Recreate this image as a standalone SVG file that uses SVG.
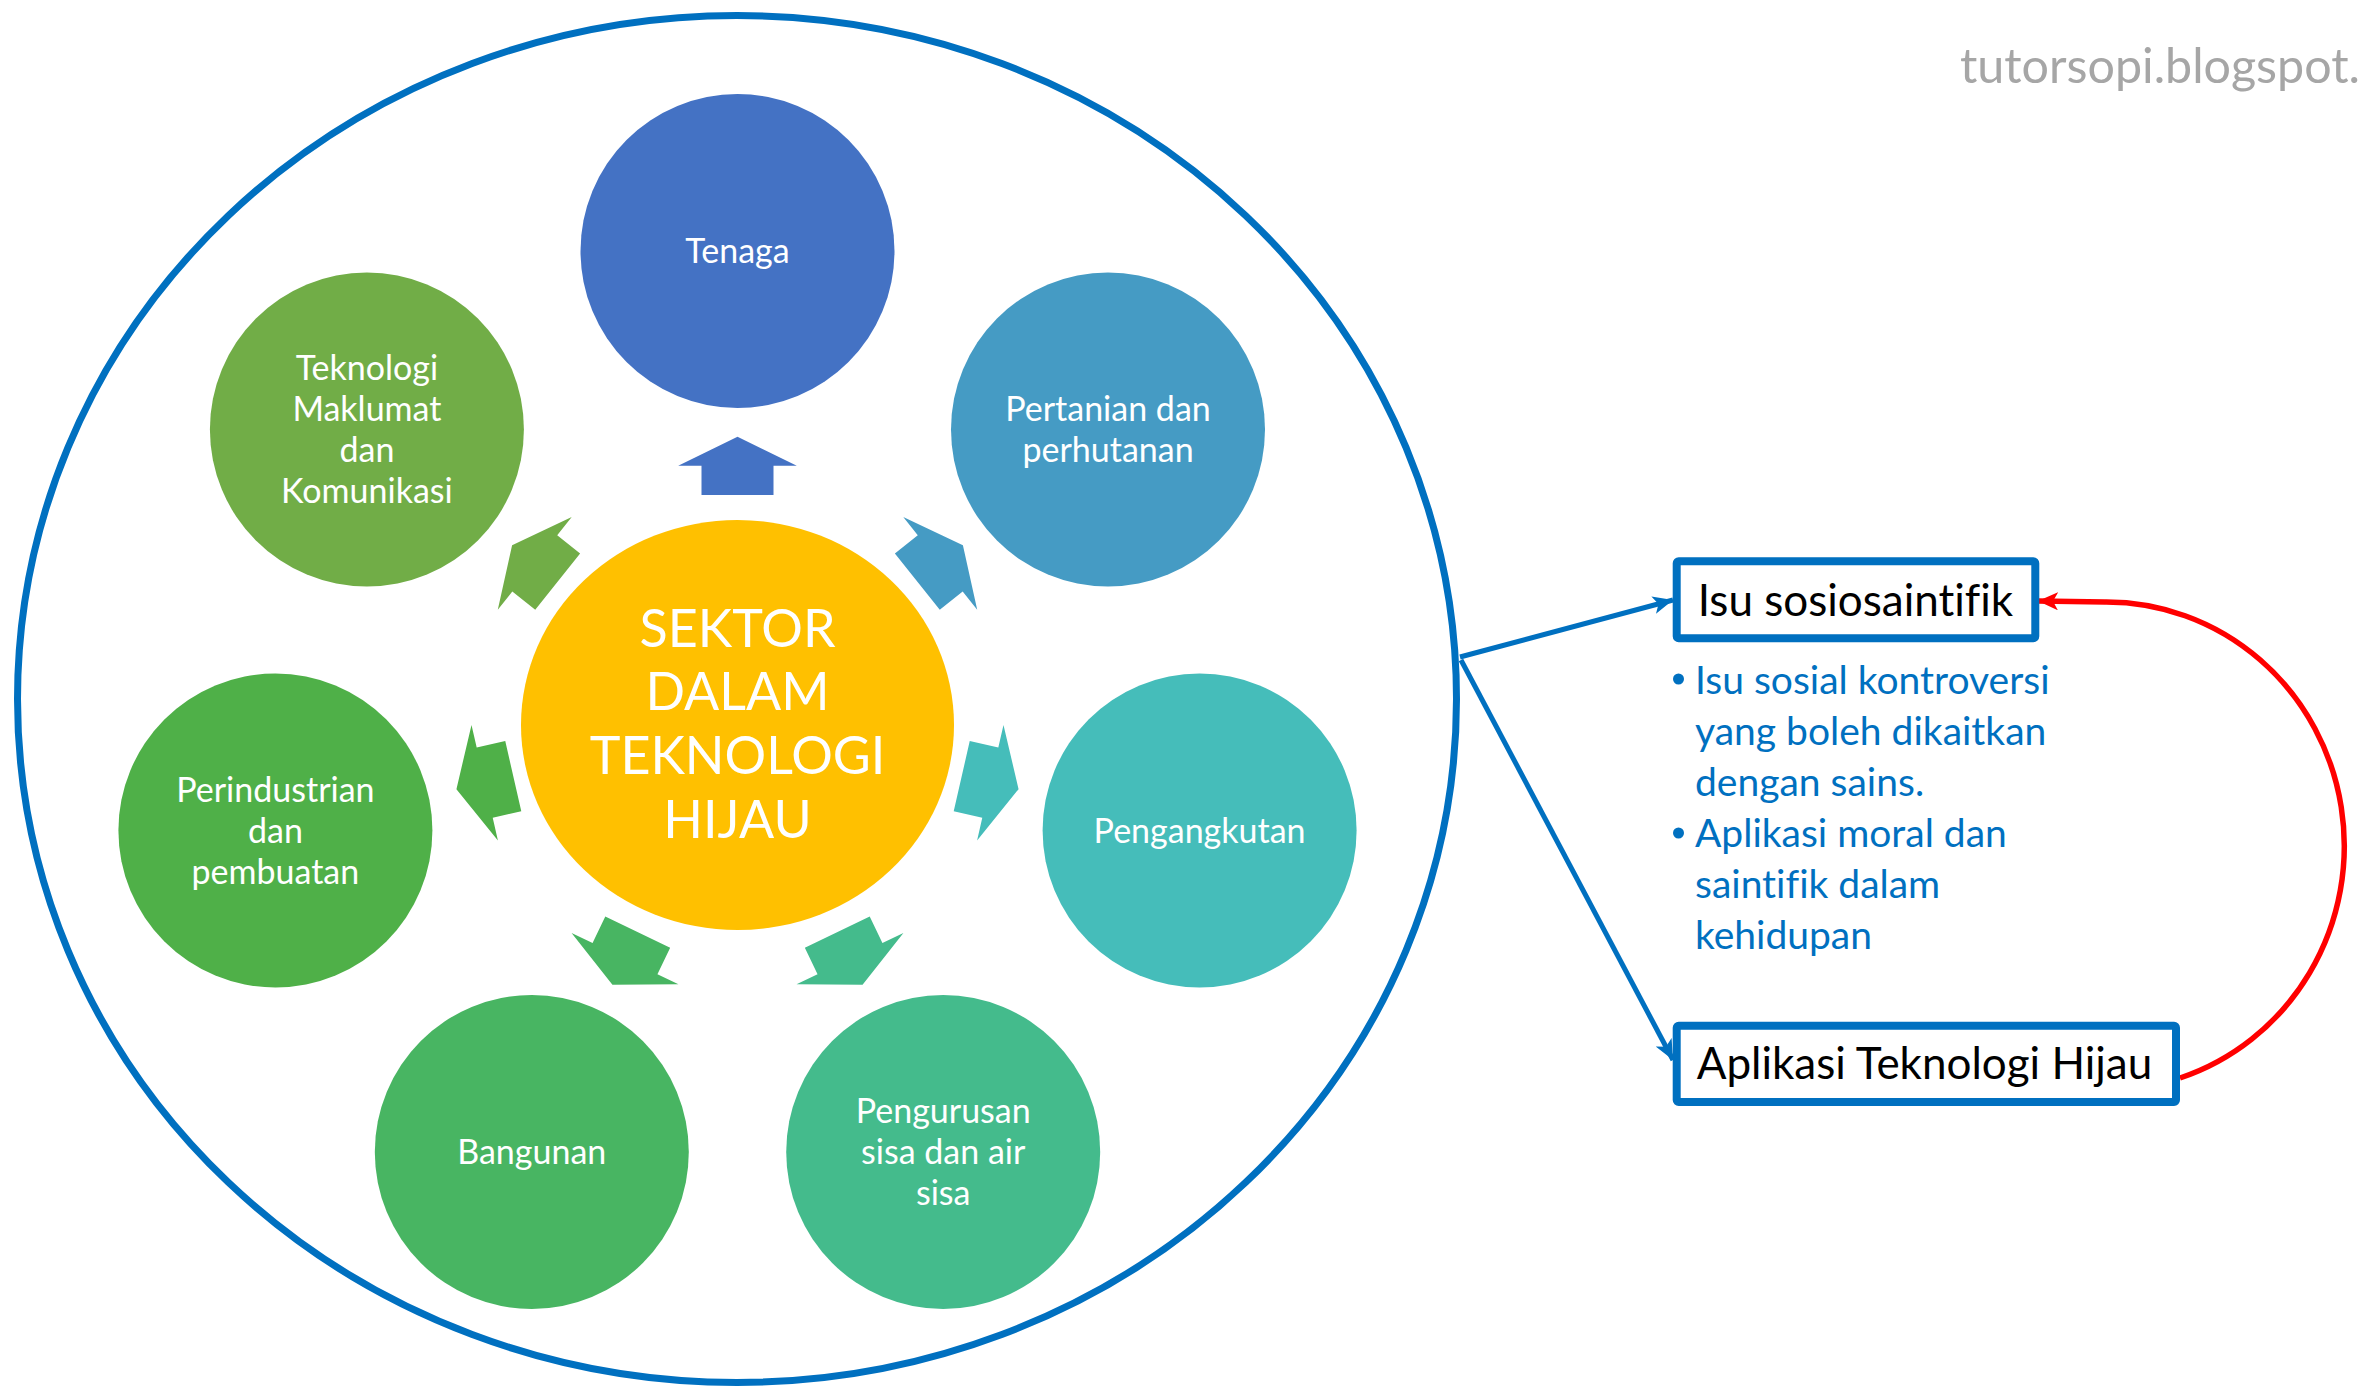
<svg xmlns="http://www.w3.org/2000/svg" xmlns:xlink="http://www.w3.org/1999/xlink" width="2369" height="1389" viewBox="0 0 2369 1389">
<style>
text{font-variant-ligatures:none;font-feature-settings:"liga" 0}
.lbl{font-family:Lato,"Open Sans","Liberation Sans",sans-serif;fill:#FFFFFF;font-size:34px;text-anchor:middle}
.hub{font-family:Lato,"Open Sans","Liberation Sans",sans-serif;fill:#FFFFFF;font-size:52px;text-anchor:middle}
.box{fill:#FFFFFF;stroke:#0070C0;stroke-width:8}
.boxt{font-family:Lato,"Open Sans","Liberation Sans",sans-serif;fill:#000000;font-size:44px}
.bul{font-family:Lato,"Open Sans","Liberation Sans",sans-serif;fill:#0070C0;font-size:39px}
.conn{fill:none;stroke:#0070C0;stroke-width:5}
.red{fill:none;stroke:#FF0000;stroke-width:5.5}
.wm{font-family:Lato,"Open Sans","Liberation Sans",sans-serif;fill:#A6A6A6;font-size:49px}
</style>
<defs>
<polygon id="arr" points="-36,-230 -36,-259.3 -59.3,-259.3 0,-288.3 59.3,-259.3 36,-259.3 36,-230"/>
<marker id="mb" markerUnits="userSpaceOnUse" markerWidth="22" markerHeight="18" refX="20" refY="9" orient="auto">
<path d="M0,0 L20,9 L0,18 L5,9 z" fill="#0070C0"/>
</marker>
<marker id="mr" markerUnits="userSpaceOnUse" markerWidth="22" markerHeight="18" refX="20" refY="9" orient="auto">
<path d="M0,0 L20,9 L0,18 L5,9 z" fill="#FF0000"/>
</marker>
</defs>
<rect width="2369" height="1389" fill="#FFFFFF"/>
<text id="watermark" class="wm" x="1960" y="83" textLength="400" lengthAdjust="spacingAndGlyphs">tutorsopi.blogspot.</text>
<g id="outer">
<ellipse cx="737" cy="699" rx="719.5" ry="683.5" fill="none" stroke="#0070C0" stroke-width="7"/>
</g>
<g id="hub-arrows">
<use xlink:href="#arr" href="#arr" transform="translate(737.5,725) rotate(0)" fill="#4472C4"/>
<use xlink:href="#arr" href="#arr" transform="translate(737.5,725) rotate(51.43)" fill="#459BC4"/>
<use xlink:href="#arr" href="#arr" transform="translate(737.5,725) rotate(102.86)" fill="#45BDBA"/>
<use xlink:href="#arr" href="#arr" transform="translate(737.5,725) rotate(154.29)" fill="#44BB8C"/>
<use xlink:href="#arr" href="#arr" transform="translate(737.5,725) rotate(205.71)" fill="#48B562"/>
<use xlink:href="#arr" href="#arr" transform="translate(737.5,725) rotate(257.14)" fill="#4FB048"/>
<use xlink:href="#arr" href="#arr" transform="translate(737.5,725) rotate(308.57)" fill="#71AD47"/>
</g>
<g id="hub">
<ellipse cx="737.5" cy="725" rx="216.5" ry="205" fill="#FFC000"/>
<text class="hub" x="737.5" y="646.6">SEKTOR</text>
<text class="hub" x="737.5" y="710.3">DALAM</text>
<text class="hub" x="737.5" y="774">TEKNOLOGI</text>
<text class="hub" x="737.5" y="837.7">HIJAU</text>
</g>
<g id="tenaga">
<circle cx="737.5" cy="251" r="157" fill="#4472C4"/>
<text class="lbl" x="737.5" y="263">Tenaga</text>
</g>
<g id="pertanian">
<circle cx="1108" cy="429.5" r="157" fill="#459BC4"/>
<text class="lbl" x="1108" y="421">Pertanian dan</text>
<text class="lbl" x="1108" y="462">perhutanan</text>
</g>
<g id="pengangkutan">
<circle cx="1199.6" cy="830.5" r="157" fill="#45BDBA"/>
<text class="lbl" x="1199.6" y="842.5">Pengangkutan</text>
</g>
<g id="pengurusan">
<circle cx="943.2" cy="1152" r="157" fill="#44BB8C"/>
<text class="lbl" x="943.2" y="1123">Pengurusan</text>
<text class="lbl" x="943.2" y="1164">sisa dan air</text>
<text class="lbl" x="943.2" y="1205">sisa</text>
</g>
<g id="bangunan">
<circle cx="531.8" cy="1152" r="157" fill="#48B562"/>
<text class="lbl" x="531.8" y="1164">Bangunan</text>
</g>
<g id="perindustrian">
<circle cx="275.4" cy="830.5" r="157" fill="#4FB048"/>
<text class="lbl" x="275.4" y="801.5">Perindustrian</text>
<text class="lbl" x="275.4" y="842.5">dan</text>
<text class="lbl" x="275.4" y="883.5">pembuatan</text>
</g>
<g id="tmk">
<circle cx="366.9" cy="429.5" r="157" fill="#71AD47"/>
<text class="lbl" x="366.9" y="380">Teknologi</text>
<text class="lbl" x="366.9" y="421">Maklumat</text>
<text class="lbl" x="366.9" y="462">dan</text>
<text class="lbl" x="366.9" y="503">Komunikasi</text>
</g>
<g id="connectors">
<line class="conn" x1="1460" y1="657" x2="1673" y2="600" marker-end="url(#mb)"/>
<line class="conn" x1="1461" y1="660" x2="1673" y2="1060" marker-end="url(#mb)"/>
<path class="red" d="M2180,1078 A238,244 0 0 0 2105,602 L2038,601" marker-end="url(#mr)"/>
</g>
<g id="isu">
<rect class="box" x="1676.7" y="561.3" width="358.6" height="77" rx="2"/>
<text class="boxt" x="1697.7" y="616">Isu sosiosaintifik</text>
</g>
<g id="bullets">
<circle cx="1678.5" cy="679" r="5.5" fill="#0070C0"/>
<circle cx="1678.5" cy="833" r="5.5" fill="#0070C0"/>
<text class="bul" x="1695" y="694">Isu sosial kontroversi</text>
<text class="bul" x="1695" y="745">yang boleh dikaitkan</text>
<text class="bul" x="1695" y="796">dengan sains.</text>
<text class="bul" x="1695" y="847">Aplikasi moral dan</text>
<text class="bul" x="1695" y="898">saintifik dalam</text>
<text class="bul" x="1695" y="949">kehidupan</text>
</g>
<g id="aplikasi">
<rect class="box" x="1676.7" y="1025.7" width="499.3" height="76.3" rx="2"/>
<text class="boxt" x="1696.7" y="1079.3">Aplikasi Teknologi Hijau</text>
</g>
</svg>
